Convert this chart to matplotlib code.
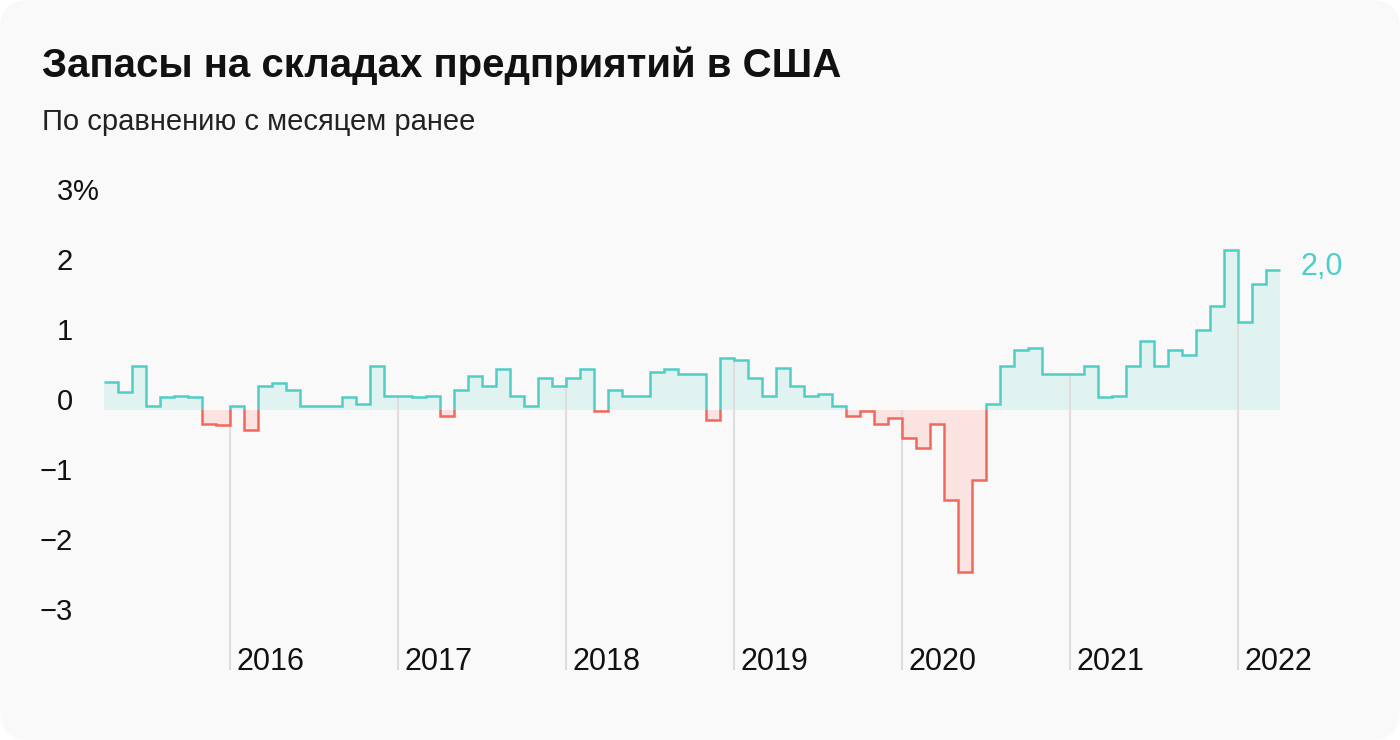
import numpy as np
import matplotlib
matplotlib.use("Agg")
import matplotlib.pyplot as plt
from matplotlib.patches import FancyBboxPatch, Rectangle
from matplotlib.transforms import blended_transform_factory, ScaledTranslation

plt.rcParams['font.family'] = ['Liberation Sans', 'DejaVu Sans']

# monthly change of US business inventories, Apr 2015 .. Mar 2022, %
values = [
    0.40, 0.26, 0.63, 0.06, 0.18, 0.20, 0.18, -0.20, -0.22,          # 2015 Apr-Dec
    0.06, -0.28, 0.35, 0.38, 0.29, 0.06, 0.06, 0.06, 0.18, 0.09, 0.63, 0.20,   # 2016
    0.20, 0.18, 0.20, -0.08, 0.29, 0.49, 0.35, 0.58, 0.20, 0.06, 0.46, 0.35,   # 2017
    0.46, 0.58, -0.02, 0.29, 0.20, 0.20, 0.55, 0.58, 0.52, 0.52, -0.14, 0.75,  # 2018
    0.72, 0.46, 0.20, 0.60, 0.35, 0.20, 0.23, 0.06, -0.08, -0.02, -0.20, -0.11,  # 2019
    -0.40, -0.54, -0.20, -1.28, -2.31, -1.00, 0.09, 0.63, 0.86, 0.89, 0.52, 0.52,  # 2020
    0.52, 0.63, 0.18, 0.20, 0.63, 0.98, 0.63, 0.86, 0.78, 1.15, 1.49, 2.29,   # 2021
    1.26, 1.80, 2.00,                                                  # 2022 Jan-Mar
]
years = [2016, 2017, 2018, 2019, 2020, 2021, 2022]
year_start = [9, 21, 33, 45, 57, 69, 81]   # month index of January
yticks = [3, 2, 1, 0, -1, -2, -3]
ytick_labels = ['3', '2', '1', '0', '\u22121', '\u22122', '\u22123']
last_label = '2,0'

title = 'Запасы на складах предприятий в США'
subtitle = 'По сравнению с месяцем ранее'

TEAL = '#4fcec6'
TEAL_FILL = '#e0f3f0'
RED = '#f2685a'
RED_FILL = '#fae3e1'
CARD = '#f9f9f9'

v = np.array(values)
edges = np.arange(len(v) + 1)

fig = plt.figure(figsize=(14, 7.4), dpi=100)
fig.patch.set_facecolor('white')
card = FancyBboxPatch((0, 0), 14, 7.4, boxstyle='round,pad=0,rounding_size=0.3',
                      transform=fig.dpi_scale_trans, facecolor=CARD, edgecolor='none',
                      zorder=-10)
fig.add_artist(card)

fig.text(42 / 1400, 1 - 77 / 740, title, fontsize=29, fontweight='bold',
         color='#111111', va='baseline')
fig.text(42 / 1400, 1 - 130 / 740, subtitle, fontsize=21, color='#222222', va='baseline')

# plot area: 14 px per month, 70 px per 1 %
ax = fig.add_axes([104 / 1400, 60 / 740, 1176 / 1400, 500 / 740])
ax.set_xlim(0, len(v))
ax.set_ylim((410 - 680) / 70, (410 - 180) / 70)
ax.axis('off')
ax.patch.set_alpha(0)

# fills
ax.stairs(np.clip(v, 0, None), edges, baseline=0, fill=True, color=TEAL_FILL, zorder=1)
ax.stairs(np.clip(v, None, 0), edges, baseline=0, fill=True, color=RED_FILL, zorder=1)

# year lines
grid_bottom = (410 - 670) / 70
for m in year_start:
    ax.vlines(m, grid_bottom, max(v[m], 0), color='#dedede', lw=1.5, zorder=2)

# step line, teal above zero and red below
pos_line = ax.stairs(v, edges, baseline=None, color=TEAL, lw=1.8, zorder=3)
neg_line = ax.stairs(v, edges, baseline=None, color=RED, lw=1.8, zorder=3)
pos_line.set_clip_path(Rectangle((-1, 0), len(v) + 2, 10, transform=ax.transData))
neg_line.set_clip_path(Rectangle((-1, -10), len(v) + 2, 10, transform=ax.transData))

# y labels, sit a bit above their value
ytrans = blended_transform_factory(fig.transFigure, ax.transData) + \
    ScaledTranslation(0, 8 / 100, fig.dpi_scale_trans)
for val, lab in zip(yticks, ytick_labels):
    ax.text(73 / 1400, val, lab, transform=ytrans, ha='right', va='center',
            fontsize=21, color='#111111', clip_on=False)
ax.text(73 / 1400, 3, '%', transform=ytrans, ha='left', va='center',
        fontsize=21, color='#111111', clip_on=False)

# year labels
for m, yr in zip(year_start, years):
    ax.text(m + 6 / 14, grid_bottom, str(yr), ha='left', va='baseline',
            fontsize=22, color='#111111', clip_on=False)

ax.text(len(v) + 20 / 14, v[-1] + 3 / 70, last_label, ha='left', va='center',
        fontsize=22, color=TEAL, clip_on=False)

fig.savefig('out.png', dpi=100, facecolor=fig.get_facecolor())
